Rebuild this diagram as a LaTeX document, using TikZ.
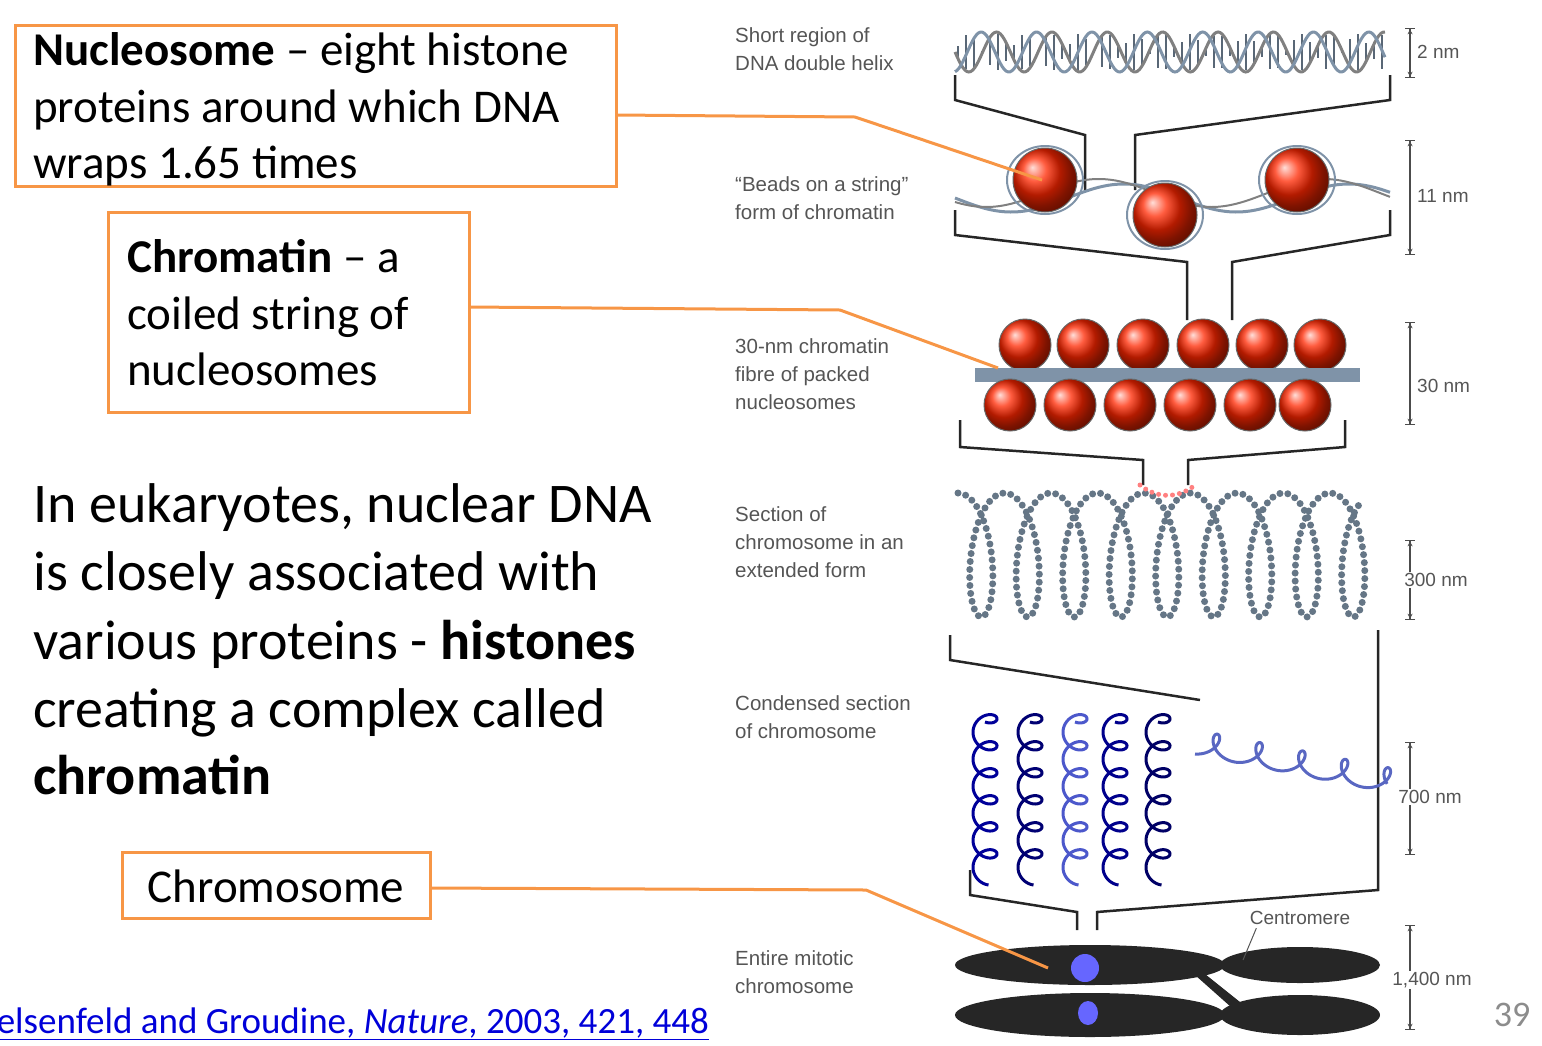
\documentclass[tikz,border=0pt]{standalone}
\usepackage{fontspec}
\setmainfont{Carlito}
\newfontfamily\lab{Liberation Sans}
\usetikzlibrary{arrows.meta,shapes.geometric}
\definecolor{orng}{HTML}{F79646}
\definecolor{lgray}{HTML}{555555}
\definecolor{bead}{HTML}{7F93A8}
\begin{document}
\begin{tikzpicture}[x=1pt,y=-1pt,
  box/.style={draw=orng,line width=3pt,inner sep=0pt},
  link/.style={orng,line width=3pt},
  big/.style={anchor=base west,font=\fontsize{56}{60}\selectfont,inner sep=0pt},
  bt/.style={anchor=base west,font=\fontsize{47}{48}\selectfont,inner sep=0pt},
  lab/.style={anchor=north west,align=left,font=\lab\fontsize{20.5}{28}\selectfont,text=lgray,inner sep=0pt},
  brk/.style={black!85,line width=2.5pt},
  sc/.style={black!70,line width=1.3pt,{Bar[width=10pt]Stealth[length=5pt,width=5pt]}-{Stealth[length=5pt,width=5pt]Bar[width=10pt]}},
  scl/.style={font=\lab\fontsize{19}{22}\selectfont,text=lgray,fill=white,inner sep=1pt},
  nuc/.style={ball color=red!70!orange,draw=black!60,line width=1pt},
]
\useasboundingbox (0,0) rectangle (1542,1045);
% left boxes
\draw[box] (15,25) rectangle (616,186);
\node[bt] (t1) at (33,65) {\textbf{Nucleosome} -- eight histone};
\node[bt] (t2) at (33,122) {proteins around which DNA};
\node[bt] (t3) at (33,178) {wraps 1.65 times};
\draw[box] (108,212) rectangle (469,412);
\node[bt] (c1) at (127,272) {\textbf{Chromatin} -- a};
\node[bt] (c2) at (127,329) {coiled string of};
\node[bt] (c3) at (127,385) {nucleosomes};
\node[big] (e1) at (33,522) {In eukaryotes, nuclear DNA};
\node[big] (e2) at (33,590) {is closely associated with};
\node[big] (e3) at (33,659) {various proteins - \textbf{histones}};
\node[big] (e4) at (33,727) {creating a complex called};
\node[big] (e5) at (33,794) {\textbf{chromatin}};
\draw[box] (122,852) rectangle (430,918);
\node[font=\fontsize{47}{48}\selectfont] (ch) at (276,886) {Chromosome};
\node[anchor=base east,font=\fontsize{37}{40}\selectfont,text=blue!85!black,inner sep=0pt] (ref) at (709,1033) {\underline{elsenfeld and Groudine, \textit{Nature}, 2003, 421, 448}};
\node[font=\fontsize{36}{40}\selectfont,text=black!45] (pg) at (1512,1015) {39};
% connectors
\coordinate (a1) at (616,115); \coordinate (a1e) at (1042,180);
\coordinate (a2) at (469,307); \coordinate (a2e) at (998,368);
\coordinate (a3) at (430,888); \coordinate (a3e) at (1048,968);
% right labels
\node[lab] (l1) at (735,27) {Short region of\\DNA double helix};
\node[lab] (l2) at (735,176) {\char"201C Beads on a string\char"201D\\form of chromatin};
\node[lab] (l3) at (735,338) {30-nm chromatin\\fibre of packed\\nucleosomes};
\node[lab] (l4) at (735,506) {Section of\\chromosome in an\\extended form};
\node[lab] (l5) at (735,695) {Condensed section\\of chromosome};
\node[lab] (l6) at (735,950) {Entire mitotic\\chromosome};
% DNA helix
\draw[bead!70!black,line width=1.2pt] foreach \x in {958,966,...,1382} {(\x,{52+18*sin((\x-955)*6.5)}) -- (\x,{52-18*sin((\x-955)*6.5)})};
\draw[black!50,line width=3pt,domain=955:1385,samples=220] plot (\x,{52+20*sin((\x-955)*6.5)});
\draw[bead,line width=3pt,domain=955:1385,samples=220] plot (\x,{52+20*sin((\x-955)*6.5+100)});
% brackets
\draw[brk] (955,75) -- (955,100) -- (1085,135) -- (1085,190);
\draw[brk] (1390,75) -- (1390,100) -- (1135,135) -- (1135,190);
% beads on string
\draw[bead,line width=3pt,domain=955:1390,samples=150] plot (\x,{198+14*sin((\x-955)*1.6)});
\draw[black!50,line width=2pt,domain=955:1390,samples=150] plot (\x,{193+14*sin((\x-955)*1.6+40)});
\shade[nuc] (1045,180) circle (32);
\shade[nuc] (1165,215) circle (32);
\shade[nuc] (1297,180) circle (32);
\draw[bead,line width=2pt] (1045,180) ellipse (38 and 34) (1165,215) ellipse (38 and 34) (1297,180) ellipse (38 and 34);
\draw[brk] (955,210) -- (955,235) -- (1187,262) -- (1187,320);
\draw[brk] (1390,210) -- (1390,235) -- (1232,262) -- (1232,320);
% 30nm fibre
\foreach \x in {1025,1083,1143,1203,1262,1320} \shade[nuc] (\x,345) circle (26);
\fill[bead] (975,368) rectangle (1360,382);
\foreach \x in {1010,1070,1130,1190,1250,1305} \shade[nuc] (\x,405) circle (26);
\draw[brk] (960,420) -- (960,447) -- (1143,460) -- (1143,485);
\draw[brk] (1345,420) -- (1345,447) -- (1188,460) -- (1188,485);
% extended loops
\draw[bead!80!black,line width=7pt,dash pattern=on 0pt off 8pt,line cap=round,domain=0:56,samples=500]
  plot ({958+7.4*\x+22*sin(\x r)},{555-62*cos(\x r)});
\draw[red!50,line width=5pt,dash pattern=on 0pt off 7pt,line cap=round] (1140,485) to[out=-40,in=-140] (1195,485);
\draw[brk] (950,635) -- (950,660) -- (1200,700);
\draw[brk] (1378,630) -- (1378,890) -- (1097,912) -- (1097,930);
\draw[brk] (970,870) -- (970,895) -- (1077,912) -- (1077,930);
% condensed section
\foreach \cx/\col in {985/blue!60!black,1030/blue!45!black,1075/bead!60!blue,1115/blue!55!black,1158/blue!40!black} {
  \draw[\col,line width=3pt,domain=0:38,samples=300] plot ({\cx+12*sin(\x r)},{712+4.3*\x+10*cos(\x r)});
}
\draw[bead!70!blue,line width=3pt,domain=0:30,samples=300] plot ({1195+6.8*\x+12*sin(\x r)},{742+40*\x/30+12*cos(\x r)});
% chromosome
\fill[black!85] (1090,965) ellipse (135 and 20) (1300,965) ellipse (80 and 18);
\fill[black!85] (1090,1015) ellipse (135 and 22) (1300,1015) ellipse (80 and 20);
\fill[black!85] (1200,970) -- (1250,1010) -- (1240,1015) -- (1195,975) -- cycle;
\fill[blue!60] (1085,968) ellipse (14 and 14) (1088,1013) ellipse (10 and 12);
\node[font=\lab\fontsize{19}{22}\selectfont,text=lgray] (cen) at (1300,918) {Centromere};
\draw[lgray,line width=1pt] (cen.south west) ++(10,0) -- (1243,960);
% scale bars
\draw[sc] (1410,28) -- (1410,78);  \node[scl,anchor=west] (s1) at (1416,52) {2 nm};
\draw[sc] (1410,140) -- (1410,255); \node[scl,anchor=west] (s2) at (1416,196) {11 nm};
\draw[sc] (1410,322) -- (1410,425); \node[scl,anchor=west] (s3) at (1416,386) {30 nm};
\draw[sc] (1410,540) -- (1410,620); \node[scl] (s4) at (1436,580) {300 nm};
\draw[sc] (1410,742) -- (1410,855); \node[scl] (s5) at (1430,797) {700 nm};
\draw[sc] (1410,925) -- (1410,1030); \node[scl] (s6) at (1432,980) {1,400 nm};
% orange connectors
\draw[link] (a1) -- (855,117) -- (a1e);
\draw[link] (a2) -- (840,310) -- (a2e);
\draw[link] (a3) -- (866,890) -- (a3e);
\end{tikzpicture}
\end{document}
